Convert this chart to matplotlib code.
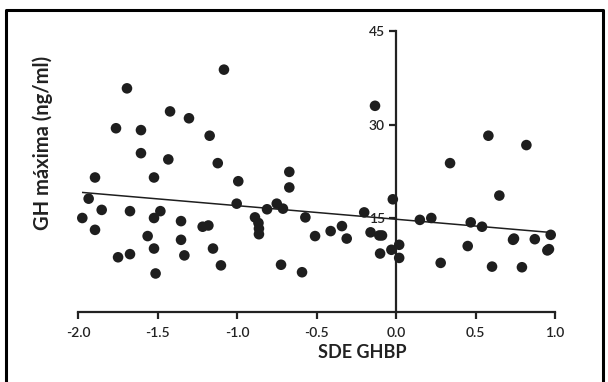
import matplotlib
matplotlib.use("Agg")
import matplotlib.pyplot as plt
import numpy as np
from matplotlib.lines import Line2D

sde_ghbp = [
    -1.082, -1.692, -1.421, -1.302, -1.761, -1.604, -1.172, -1.604, -1.432, -1.121,
    -1.893, -1.522, -0.992, -1.933, -1.002, -1.851, -1.673, -1.482, -1.973, -1.522,
    -1.352, -1.893, -1.216, -1.180, -1.562, -1.352, -1.522, -1.151, -1.748, -1.673,
    -1.331, -1.101, -1.512,
    -0.132, -0.671, -0.671, -0.750, -0.811, -0.711, -0.020, -0.200, -0.887, -0.570,
    -0.865, -0.862, -0.862, -0.340, -0.411, -0.509, -0.310, -0.160, -0.105, -0.088,
    0.020, -0.029, -0.100, 0.020, -0.723, -0.591,
    0.581, 0.820, 0.340, 0.650, 0.150, 0.222, 0.470, 0.541, 0.736, 0.742,
    0.873, 0.973, 0.952, 0.962, 0.451, 0.281, 0.604, 0.792,
]
gh_maxima = [
    38.8, 35.8, 32.1, 31.0, 29.4, 29.1, 28.2, 25.4, 24.4, 23.8,
    21.5, 21.5, 20.9, 18.1, 17.3, 16.3, 16.1, 16.1, 15.0, 15.0,
    14.5, 13.1, 13.6, 13.8, 12.1, 11.5, 10.1, 10.1, 8.7, 9.2,
    9.0, 7.4, 6.1,
    33.0, 22.4, 19.9, 17.3, 16.4, 16.5, 18.0, 15.9, 15.1, 15.1,
    14.2, 13.3, 12.4, 13.7, 12.9, 12.1, 11.7, 12.7, 12.2, 12.2,
    10.7, 9.9, 9.3, 8.6, 7.5, 6.3,
    28.2, 26.7, 23.8, 18.6, 14.7, 15.0, 14.3, 13.6, 11.5, 11.7,
    11.6, 12.3, 9.8, 10.0, 10.5, 7.8, 7.2, 7.1,
]
fit_x_range = [-1.97, 0.973]
fit_intercept = 14.8
fit_slope = -2.18

x_ticks = [-2.0, -1.5, -1.0, -0.5, 0.0, 0.5, 1.0]
x_ticklabels = ["-2.0", "-1.5", "-1.0", "-0.5", "0.0", "0.5", "1.0"]
y_ticks = [15, 30, 45]
y_ticklabels = ["15", "30", "45"]

plt.rcParams['font.family'] = ['Lato', 'DejaVu Sans']

fig = plt.figure(figsize=(6.08, 3.82), dpi=100)
ax = fig.add_axes([78/608, 1 - 311.5/382, (555-78)/608, (311.5-31)/382])

ax.scatter(sde_ghbp, gh_maxima, s=58, color='#1e1e1e', edgecolors='none',
           zorder=3, clip_on=False)
fx = np.array(fit_x_range)
ax.plot(fx, fit_intercept + fit_slope * fx, color='#1e1e1e', lw=1.1, zorder=2)

ax.set_xlim(-2.0, 1.0)
ax.set_ylim(0, 45)
for s in ['top', 'right']:
    ax.spines[s].set_visible(False)
ax.spines['left'].set_position(('data', 0.0))
ax.spines['left'].set_bounds(0, 45)
ax.spines['bottom'].set_bounds(-2.0, 1.0)
for s in ['left', 'bottom']:
    ax.spines[s].set_linewidth(1.6)
    ax.spines[s].set_color('#222222')

ax.set_xticks(x_ticks)
ax.set_xticklabels(x_ticklabels, fontweight='semibold')
ax.set_yticks(y_ticks)
ax.set_yticklabels(y_ticklabels, fontweight='semibold')
ax.tick_params(axis='both', direction='out', length=5, width=1.6, color='#222222',
               labelsize=10, labelcolor='#222222')
ax.tick_params(axis='x', pad=6)
ax.tick_params(axis='y', pad=3)
ax.set_facecolor('none')

fig.text(362/608, 1 - 353/382, "SDE GHBP", ha='center', va='center',
         fontsize=13, fontweight='bold', color='#222222')
fig.text(43/608, 1 - 143/382, "GH máxima (ng/ml)", ha='center', va='center',
         rotation=90, fontsize=14.5, fontweight='bold', color='#222222')

# frame around figure
x0, y0, x1, y1 = 6/608, -0.05, 603/608, 1 - 10/382
fig.add_artist(Line2D([x0, x0, x1, x1], [y0, y1, y1, y0], transform=fig.transFigure,
                      color='black', lw=2.2))

fig.savefig("out.png", dpi=100)
